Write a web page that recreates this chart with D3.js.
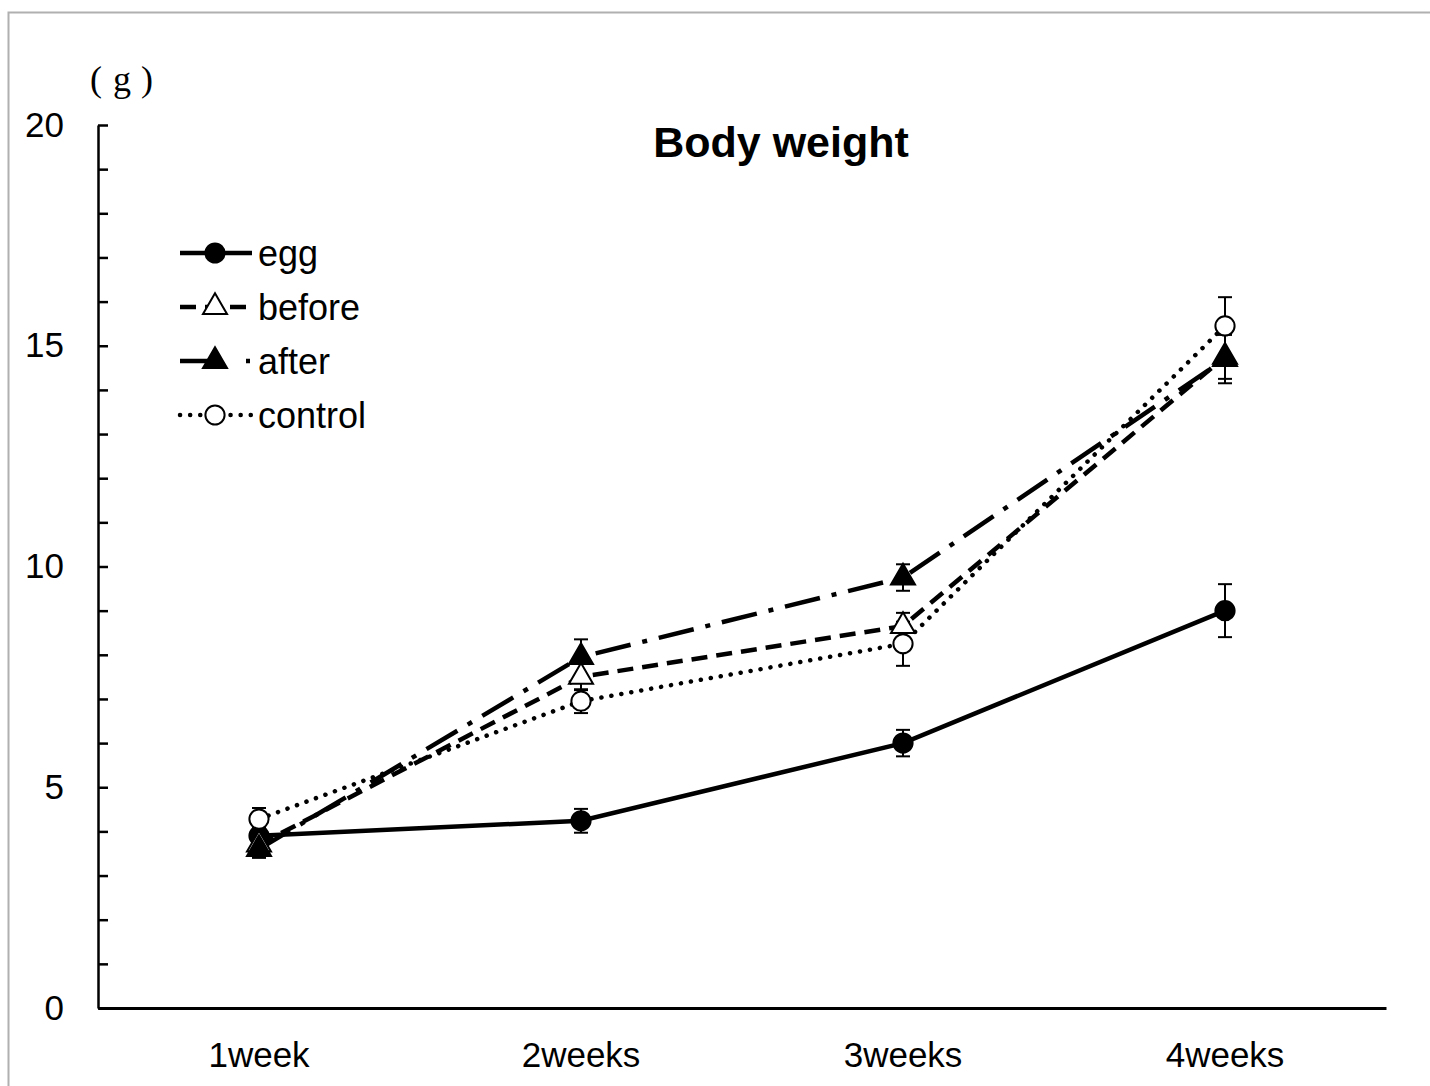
<!DOCTYPE html>
<html>
<head>
<meta charset="utf-8">
<script src="https://cdn.jsdelivr.net/npm/d3@7"></script>
<style>
  body { margin: 0; background: #fff; }
  text { font-family: "Liberation Sans", Arial, sans-serif; fill: #000; }
</style>
</head>
<body>
<div id="chart-area"></div>
<script>

// data
let weeks = ["1week", "2weeks", "3weeks", "4weeks"];

let eggValues = [3.9, 4.24, 6.0, 9.0];
let eggErrors = [0.2, 0.27, 0.3, 0.6];

let beforeValues = [3.7, 7.5, 8.65, 14.75];
let beforeErrors = [0.2, 0.3, 0.3, 0.5];

let afterValues = [3.6, 7.95, 9.75, 14.7];
let afterErrors = [0.2, 0.4, 0.3, 0.55];

let controlValues = [4.28, 6.95, 8.25, 15.45];
let controlErrors = [0.25, 0.27, 0.5, 0.65];

let yTicks = d3.range(0, 21);

let seriesNames = ["egg", "before", "after", "control"];

// SVG Size
let width = 1430,
	height = 1086;

let margin = {top: 125, right: 44, bottom: 78, left: 98};

let series = [
	{name: "egg", values: eggValues, errors: eggErrors, dash: null, legendDash: null, symbol: d3.symbolCircle, fill: "#000"},
	{name: "before", values: beforeValues, errors: beforeErrors, dash: "16,9", legendDash: "16,9", symbol: d3.symbolTriangle, fill: "#fff"},
	{name: "after", values: afterValues, errors: afterErrors, dash: "36,12,5,12", legendDash: "35,31,4,40", symbol: d3.symbolTriangle, fill: "#000"},
	{name: "control", values: controlValues, errors: controlErrors, dash: "0.1,10", legendDash: "0.1,10", symbol: d3.symbolCircle, fill: "#fff"}
];

let svg = d3.select("#chart-area").append("svg")
	.attr("width", width)
	.attr("height", height);

// outer frame
svg.append("rect")
	.attr("x", 8.5).attr("y", 12.5)
	.attr("width", 1430).attr("height", 1100)
	.attr("fill", "none")
	.attr("stroke", "#b0b0b0")
	.attr("stroke-width", 2);

let x = d3.scaleBand()
	.domain(weeks)
	.range([margin.left, width - margin.right]);

let y = d3.scaleLinear()
	.domain([0, 20])
	.range([height - margin.bottom, margin.top]);

let cx = (i) => x(weeks[i]) + x.bandwidth() / 2;

// axes
let yAxis = svg.append("g")
	.attr("transform", "translate(" + margin.left + ",0)")
	.call(d3.axisLeft(y)
		.tickValues(yTicks)
		.tickSizeInner(-10)
		.tickSizeOuter(0)
		.tickPadding(34)
		.tickFormat(d => d % 5 === 0 ? d : ""));

let xAxis = svg.append("g")
	.attr("transform", "translate(0," + (height - margin.bottom) + ")")
	.call(d3.axisBottom(x).tickSize(0).tickPadding(34));

svg.selectAll(".tick text").style("font-size", "35px").style("font-family", "Liberation Sans, Arial, sans-serif");
svg.selectAll(".domain, .tick line").attr("stroke", "#000").attr("stroke-width", 2.5);
xAxis.select(".domain").attr("stroke-width", 3);
xAxis.selectAll(".tick line").remove();

// unit label, spaced like full-width brackets
[["(", 96], ["g", 122], [")", 147]].forEach(p => {
	svg.append("text")
		.attr("x", p[1]).attr("y", 91)
		.attr("text-anchor", "middle")
		.style("font-family", "'Liberation Serif', serif")
		.style("font-size", "36px")
		.text(p[0]);
});

// title
svg.append("text")
	.attr("x", 781).attr("y", 157)
	.attr("text-anchor", "middle")
	.style("font-weight", "bold")
	.style("font-size", "43px")
	.text("Body weight");

let line = d3.line()
	.x((d, i) => cx(i))
	.y(d => y(d));

// lines
series.forEach(s => {
	svg.append("path")
		.datum(s.values)
		.attr("d", line)
		.attr("fill", "none")
		.attr("stroke", "#000")
		.attr("stroke-width", 4.5)
		.attr("stroke-linecap", s.name === "control" ? "round" : "butt")
		.attr("stroke-dasharray", s.dash);
});

// error bars
series.forEach(s => {
	let g = svg.append("g");
	s.values.forEach((v, i) => {
		let e = s.errors[i];
		g.append("line")
			.attr("x1", cx(i)).attr("x2", cx(i))
			.attr("y1", y(v - e)).attr("y2", y(v + e))
			.attr("stroke", "#000").attr("stroke-width", 2);
		[v - e, v + e].forEach(t => {
			g.append("line")
				.attr("x1", cx(i) - 7).attr("x2", cx(i) + 7)
				.attr("y1", y(t)).attr("y2", y(t))
				.attr("stroke", "#000").attr("stroke-width", 2);
		});
	});
});

// markers
let drawMarker = (s, px, py) => {
	svg.append("path")
		.attr("d", d3.symbol().type(s.symbol).size(s.symbol === d3.symbolCircle ? 290 : 250)())
		.attr("transform", "translate(" + px + "," + py + ")")
		.attr("fill", s.fill)
		.attr("stroke", "#000")
		.attr("stroke-width", 2);
};

series.forEach(s => {
	s.values.forEach((v, i) => drawMarker(s, cx(i), y(v)));
});

// legend
let legend = svg.append("g");
series.forEach((s, i) => {
	let ly = 253 + i * 54;
	legend.append("line")
		.attr("x1", 180).attr("x2", 252)
		.attr("y1", ly).attr("y2", ly)
		.attr("stroke", "#000")
		.attr("stroke-width", 4.5)
		.attr("stroke-linecap", s.name === "control" ? "round" : "butt")
		.attr("stroke-dasharray", s.legendDash);
	drawMarker(s, 215, ly);
	legend.append("text")
		.attr("x", 258).attr("y", ly)
		.attr("dy", "0.35em")
		.style("font-size", "36px")
		.text(seriesNames[i]);
});

</script>
</body>
</html>
